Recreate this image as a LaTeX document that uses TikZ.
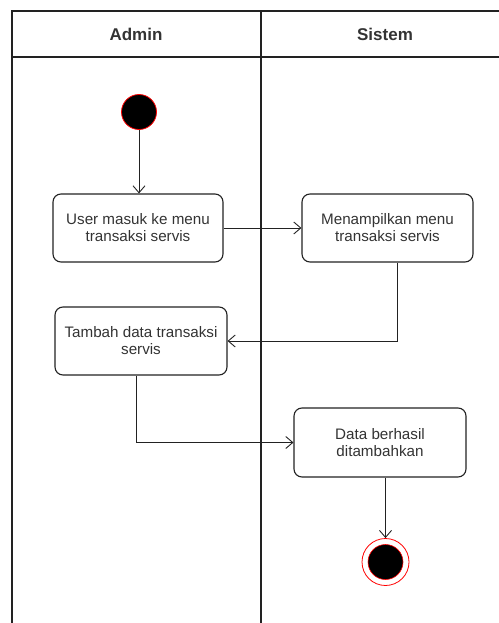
\documentclass[tikz,border=0pt]{standalone}
\usepackage{fontspec}
\setmainfont{Liberation Sans}
\usetikzlibrary{arrows.meta}
\definecolor{txt}{HTML}{333333}
\definecolor{ln}{HTML}{222222}
\definecolor{endred}{HTML}{FF0000}
\begin{document}
\begin{tikzpicture}[x=1pt,y=-1pt,
  lane/.style={line width=1.3pt,draw=ln},
  hdr/.style={font=\fontsize{17}{19}\selectfont\bfseries,text=txt},
  act/.style={draw=ln,line width=1.1pt,rounded corners=8pt,minimum width=170pt,minimum height=68pt,
     align=center,text=txt,font=\fontsize{15.2}{17}\selectfont,inner sep=2pt},
  arr/.style={draw=ln,line width=0.9pt,-{Straight Barb[length=7pt,width=12pt]}},
  startst/.style={circle,fill=black,draw=endred,line width=0.8pt,minimum size=35pt,inner sep=0pt},
]
\useasboundingbox (0,0) rectangle (498,623);
% swimlanes
\draw[lane] (12,625) -- (12,11) -- (500,11);
\draw[lane] (12,57) -- (500,57);
\draw[lane] (261,11) -- (261,625);
\node[hdr] (hA) at (136,34) {Admin};
\node[hdr] (hS) at (385,34) {Sistem};
% nodes
\node[startst] (start) at (139,112) {};
\node[act] (b1) at (138,228) {User masuk ke menu\\transaksi servis};
\node[act,minimum width=171pt] (b2) at (387.5,228) {Menampilkan menu\\transaksi servis};
\node[act,minimum width=172pt] (b3) at (141,341) {Tambah data transaksi\\servis};
\node[act,minimum width=172pt,minimum height=69pt] (b4) at (380,442.5) {Data berhasil\\ditambahkan};
\node[circle,draw=endred,line width=0.8pt,minimum size=47pt,inner sep=0pt] (endo) at (385.5,562) {};
\node[circle,fill=black,draw=endred,line width=0.6pt,minimum size=35pt,inner sep=0pt] (endi) at (385.5,562) {};
% connectors
\draw[arr] (start) -- (start |- b1.north);
\draw[arr] (b1) -- (b2);
\draw[arr] ([xshift=9.5pt]b2.south) |- (b3.east);
\draw[arr] ([xshift=-4.5pt]b3.south) |- (b4.west);
\draw[arr] (b4.south -| endo.north) -- (endo.north);
\end{tikzpicture}
\end{document}
